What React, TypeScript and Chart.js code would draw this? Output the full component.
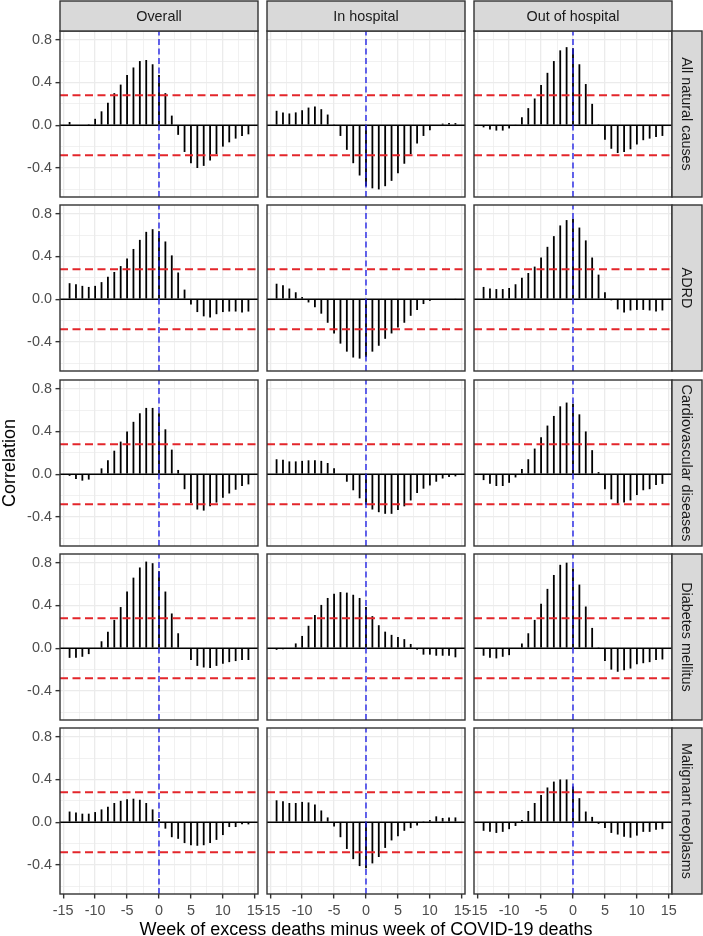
import React, { useEffect, useRef } from 'react';
import { Chart, registerables } from 'chart.js';

Chart.register(...registerables);

const FONT = '"Liberation Sans", Arial, Helvetica, sans-serif';

// ---------------- data ----------------
const LAGS = [-14, -13, -12, -11, -10, -9, -8, -7, -6, -5, -4, -3, -2, -1, 0, 1, 2, 3, 4, 5, 6, 7, 8, 9, 10, 11, 12, 13, 14];
const COLUMN_LABELS = ['Overall', 'In hospital', 'Out of hospital'];
const ROW_LABELS = ['All natural causes', 'ADRD', 'Cardiovascular diseases', 'Diabetes mellitus', 'Malignant neoplasms'];
const CI_BOUND = 0.28;
const Y_MIN = -0.671;
const Y_MAX = 0.881;
const X_MIN = -15.5;
const X_MAX = 15.5;
const Y_TICKS = [-0.6, -0.4, -0.2, 0, 0.2, 0.4, 0.6, 0.8];
const X_TICKS = [-15, -12.5, -10, -7.5, -5, -2.5, 0, 2.5, 5, 7.5, 10, 12.5, 15];
const X_LABEL = 'Week of excess deaths minus week of COVID-19 deaths';
const Y_LABEL = 'Correlation';

const natOverall = [0.03, 0, 0, 0.01, 0.06, 0.13, 0.21, 0.30, 0.38, 0.47, 0.54, 0.60, 0.61, 0.57, 0.47, 0.30, 0.09, -0.09, -0.25, -0.355, -0.40, -0.38, -0.33, -0.27, -0.20, -0.16, -0.125, -0.10, -0.085];
const natInHosp = [0.135, 0.12, 0.11, 0.12, 0.14, 0.165, 0.175, 0.15, 0.10, 0.01, -0.10, -0.23, -0.355, -0.47, -0.57, -0.59, -0.60, -0.57, -0.52, -0.45, -0.36, -0.27, -0.17, -0.10, -0.047, 0.0, 0.015, 0.02, 0.02];
const natOutHosp = [-0.02, -0.04, -0.05, -0.05, -0.03, 0.005, 0.075, 0.16, 0.25, 0.375, 0.49, 0.60, 0.70, 0.73, 0.72, 0.57, 0.385, 0.20, 0.01, -0.135, -0.22, -0.26, -0.25, -0.225, -0.18, -0.14, -0.125, -0.11, -0.10];

const adrdOverall = [0.15, 0.14, 0.125, 0.115, 0.125, 0.16, 0.21, 0.255, 0.31, 0.38, 0.47, 0.555, 0.63, 0.655, 0.635, 0.54, 0.41, 0.25, 0.09, -0.05, -0.12, -0.16, -0.17, -0.14, -0.12, -0.115, -0.115, -0.125, -0.115];
const adrdInHosp = [0.145, 0.13, 0.10, 0.065, 0.02, -0.03, -0.075, -0.135, -0.22, -0.32, -0.415, -0.49, -0.545, -0.555, -0.54, -0.49, -0.435, -0.37, -0.32, -0.265, -0.22, -0.155, -0.10, -0.045, -0.015, 0, 0, 0, 0.005];
const adrdOutHosp = [0.115, 0.10, 0.095, 0.095, 0.105, 0.14, 0.20, 0.245, 0.305, 0.39, 0.49, 0.59, 0.69, 0.74, 0.75, 0.67, 0.55, 0.39, 0.23, 0.065, -0.01, -0.095, -0.125, -0.105, -0.10, -0.10, -0.105, -0.115, -0.105];

const cvdOverall = [-0.015, -0.045, -0.06, -0.05, 0, 0.055, 0.13, 0.22, 0.305, 0.40, 0.49, 0.57, 0.62, 0.62, 0.57, 0.42, 0.23, 0.04, -0.14, -0.27, -0.33, -0.34, -0.30, -0.265, -0.22, -0.18, -0.145, -0.11, -0.095];
const cvdInHosp = [0.14, 0.135, 0.12, 0.12, 0.125, 0.13, 0.13, 0.125, 0.105, 0.055, 0, -0.07, -0.15, -0.225, -0.285, -0.33, -0.355, -0.37, -0.37, -0.335, -0.30, -0.245, -0.175, -0.135, -0.105, -0.07, -0.04, -0.025, -0.02];
const cvdOutHosp = [-0.055, -0.09, -0.11, -0.11, -0.08, -0.03, 0.05, 0.14, 0.24, 0.345, 0.455, 0.545, 0.635, 0.67, 0.66, 0.56, 0.40, 0.225, 0.02, -0.14, -0.235, -0.275, -0.265, -0.245, -0.195, -0.15, -0.14, -0.10, -0.09];

const dmOverall = [-0.09, -0.09, -0.08, -0.055, 0, 0.065, 0.155, 0.265, 0.385, 0.53, 0.66, 0.755, 0.81, 0.795, 0.72, 0.53, 0.325, 0.14, 0, -0.11, -0.165, -0.18, -0.185, -0.165, -0.145, -0.13, -0.12, -0.11, -0.11];
const dmInHosp = [-0.015, -0.01, 0, 0.045, 0.115, 0.21, 0.31, 0.405, 0.47, 0.51, 0.525, 0.52, 0.50, 0.47, 0.385, 0.30, 0.215, 0.155, 0.125, 0.105, 0.085, 0.04, -0.015, -0.06, -0.06, -0.07, -0.07, -0.07, -0.085];
const dmOutHosp = [-0.07, -0.09, -0.095, -0.08, -0.065, 0, 0.045, 0.14, 0.265, 0.415, 0.555, 0.685, 0.78, 0.80, 0.745, 0.595, 0.39, 0.19, 0.003, -0.12, -0.20, -0.22, -0.205, -0.19, -0.15, -0.14, -0.13, -0.11, -0.105];

const neoOverall = [0.10, 0.09, 0.08, 0.08, 0.095, 0.12, 0.145, 0.18, 0.20, 0.215, 0.22, 0.21, 0.18, 0.12, 0.03, -0.06, -0.14, -0.155, -0.195, -0.215, -0.22, -0.215, -0.195, -0.165, -0.12, -0.045, -0.045, -0.02, -0.02];
const neoInHosp = [0.205, 0.195, 0.18, 0.18, 0.19, 0.185, 0.165, 0.11, 0.045, -0.04, -0.14, -0.25, -0.345, -0.41, -0.43, -0.385, -0.325, -0.24, -0.17, -0.13, -0.08, -0.055, -0.03, 0.003, 0.02, 0.055, 0.04, 0.045, 0.045];
const neoOutHosp = [-0.08, -0.09, -0.10, -0.09, -0.065, -0.035, 0.02, 0.105, 0.18, 0.255, 0.325, 0.38, 0.40, 0.40, 0.335, 0.225, 0.10, 0.05, -0.015, -0.055, -0.10, -0.115, -0.135, -0.145, -0.125, -0.09, -0.09, -0.07, -0.065];

const SERIES = [
  [natOverall, natInHosp, natOutHosp],
  [adrdOverall, adrdInHosp, adrdOutHosp],
  [cvdOverall, cvdInHosp, cvdOutHosp],
  [dmOverall, dmInHosp, dmOutHosp],
  [neoOverall, neoInHosp, neoOutHosp],
];

// ---------------- layout & style ----------------
const PANEL_X = [60, 267, 474];
const PANEL_W = 198;
const PANEL_Y = [31, 205, 380, 554, 728];
const PANEL_H = 166;
const STRIP = 30;
const RED = '#E3262B';
const BLUE = '#2424E6';
const GRID = '#EBEBEB';
const DARK = '#333333';

const isMajorY = (v: number) => Math.abs(v / 0.4 - Math.round(v / 0.4)) < 1e-6;
const isMajorX = (v: number) => Math.abs(v / 5 - Math.round(v / 5)) < 1e-6;

function Panel({ row, col }: { row: number; col: number }) {
  const ref = useRef<HTMLCanvasElement | null>(null);
  const ml = col === 0 ? PANEL_X[0] : 10;
  const mr = col === 2 ? STRIP + 2 : 10;
  const mt = row === 0 ? PANEL_Y[0] : 4;
  const mb = row === 4 ? 32 : 4;
  const w = PANEL_W + ml + mr;
  const h = PANEL_H + mt + mb;

  useEffect(() => {
    const values = SERIES[row][col];
    const facet = {
      id: 'facet',
      afterDraw(chart: any) {
        const { ctx, chartArea: a } = chart;
        ctx.save();
        ctx.lineWidth = 1.4;
        ctx.strokeStyle = DARK;
        ctx.strokeRect(a.left, a.top, a.right - a.left, a.bottom - a.top);
        ctx.font = `14.4px ${FONT}`;
        ctx.textAlign = 'center';
        ctx.textBaseline = 'middle';
        if (row === 0) {
          ctx.fillStyle = '#D9D9D9';
          ctx.fillRect(a.left, a.top - STRIP, a.right - a.left, STRIP);
          ctx.strokeRect(a.left, a.top - STRIP, a.right - a.left, STRIP);
          ctx.fillStyle = '#1A1A1A';
          ctx.fillText(COLUMN_LABELS[col], (a.left + a.right) / 2, a.top - STRIP / 2 + 1);
        }
        if (col === 2) {
          ctx.fillStyle = '#D9D9D9';
          ctx.fillRect(a.right, a.top, STRIP, a.bottom - a.top);
          ctx.strokeRect(a.right, a.top, STRIP, a.bottom - a.top);
          ctx.fillStyle = '#1A1A1A';
          ctx.translate(a.right + STRIP / 2 - 1, (a.top + a.bottom) / 2);
          ctx.rotate(Math.PI / 2);
          ctx.fillText(ROW_LABELS[row], 0, 0);
        }
        ctx.restore();
      },
    };

    const hline = (y: number, color: string, width: number, dash: number[], order: number) => ({
      type: 'line' as const,
      data: [{ x: X_MIN, y }, { x: X_MAX, y }],
      borderColor: color,
      borderWidth: width,
      borderDash: dash,
      pointRadius: 0,
      fill: false,
      tension: 0,
      order,
    });

    const chart = new Chart(ref.current as HTMLCanvasElement, {
      type: 'bar',
      data: {
        datasets: [
          hline(CI_BOUND, RED, 2, [8, 4.5], 0),
          hline(-CI_BOUND, RED, 2, [8, 4.5], 0),
          {
            type: 'line',
            data: [{ x: 0, y: Y_MIN }, { x: 0, y: Y_MAX }],
            borderColor: BLUE,
            borderWidth: 1.4,
            borderDash: [6, 3.5],
            pointRadius: 0,
            fill: false,
            order: 0,
          },
          {
            type: 'bar',
            data: LAGS.map((x, i) => ({ x, y: values[i] })),
            backgroundColor: '#000000',
            borderWidth: 0,
            barThickness: 1.8,
            inflateAmount: 0,
            order: 1,
          },
          hline(0, '#000000', 1.7, [], 2),
        ] as any,
      },
      options: {
        responsive: false,
        animation: false,
        devicePixelRatio: 1,
        events: [],
        layout: {
          autoPadding: false,
          padding: { left: col === 0 ? 0 : ml, right: mr, top: mt, bottom: row === 4 ? 0 : mb },
        },
        plugins: { legend: { display: false }, tooltip: { enabled: false }, title: { display: false } },
        scales: {
          x: {
            type: 'linear',
            position: 'bottom',
            min: X_MIN,
            max: X_MAX,
            offset: false,
            afterBuildTicks: (s: any) => {
              s.ticks = X_TICKS.map((value) => ({ value }));
            },
            afterFit: (s: any) => {
              s.height = row === 4 ? mb : 0;
              s.paddingLeft = 0; s.paddingRight = 0; s.paddingTop = 0; s.paddingBottom = 0;
            },
            ticks: {
              display: row === 4,
              autoSkip: false,
              maxRotation: 0,
              minRotation: 0,
              padding: 3.6,
              color: '#4D4D4D',
              font: { family: FONT, size: 14.4 },
              callback: (v: any) => (isMajorX(Number(v)) ? String(v) : ''),
            },
            grid: {
              offset: false,
              color: GRID,
              lineWidth: (c: any) => (c.tick && isMajorX(c.tick.value) ? 1.3 : 0.7),
              drawTicks: row === 4,
              tickLength: 4.5,
              tickWidth: 1.4,
              tickColor: (c: any) => (c.tick && isMajorX(c.tick.value) ? DARK : 'rgba(0,0,0,0)'),
            },
            border: { display: false },
          },
          y: {
            type: 'linear',
            position: 'left',
            min: Y_MIN,
            max: Y_MAX,
            afterBuildTicks: (s: any) => {
              s.ticks = Y_TICKS.map((value) => ({ value }));
            },
            afterFit: (s: any) => {
              s.width = col === 0 ? ml : 0;
              s.paddingLeft = 0; s.paddingRight = 0; s.paddingTop = 0; s.paddingBottom = 0;
            },
            ticks: {
              display: col === 0,
              padding: 3.6,
              color: '#4D4D4D',
              font: { family: FONT, size: 14.4 },
              callback: (v: any) => (isMajorY(Number(v)) ? Number(v).toFixed(1) : ''),
            },
            grid: {
              color: GRID,
              lineWidth: (c: any) => (c.tick && isMajorY(c.tick.value) ? 1.3 : 0.7),
              drawTicks: col === 0,
              tickLength: 4.5,
              tickWidth: 1.4,
              tickColor: (c: any) => (c.tick && isMajorY(c.tick.value) ? DARK : 'rgba(0,0,0,0)'),
            },
            border: { display: false },
          },
        },
      } as any,
      plugins: [facet],
    });
    return () => chart.destroy();
  }, [row, col]);

  return (
    <canvas
      ref={ref}
      width={w}
      height={h}
      style={{ position: 'absolute', left: PANEL_X[col] - ml, top: PANEL_Y[row] - mt, width: w, height: h }}
    />
  );
}

export default function App() {
  const panels = [];
  for (let r = 0; r < ROW_LABELS.length; r++) {
    for (let c = 0; c < COLUMN_LABELS.length; c++) {
      panels.push(<Panel key={`${r}-${c}`} row={r} col={c} />);
    }
  }
  return (
    <div
      style={{
        position: 'absolute',
        left: 0,
        top: 0,
        width: 703,
        height: 936,
        background: '#FFFFFF',
        overflow: 'hidden',
        fontFamily: FONT,
      }}
    >
      {panels}
      <div
        style={{
          position: 'absolute',
          left: (PANEL_X[0] + PANEL_X[2] + PANEL_W) / 2,
          top: 920,
          transform: 'translateX(-50%)',
          fontSize: 18,
          lineHeight: '18px',
          whiteSpace: 'nowrap',
          color: '#000000',
        }}
      >
        {X_LABEL}
      </div>
      <div
        style={{
          position: 'absolute',
          left: 9,
          top: (PANEL_Y[0] + PANEL_Y[4] + PANEL_H) / 2,
          transform: 'translate(-50%, -50%) rotate(-90deg)',
          fontSize: 18,
          lineHeight: '18px',
          whiteSpace: 'nowrap',
          color: '#000000',
        }}
      >
        {Y_LABEL}
      </div>
    </div>
  );
}
